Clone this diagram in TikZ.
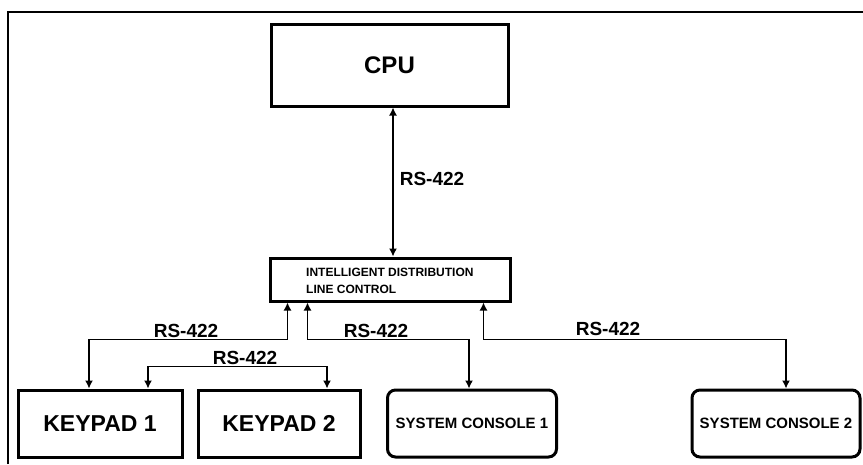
\documentclass[tikz,border=0pt]{standalone}
\usepackage{fontspec}
\setmainfont{Liberation Sans}
\usetikzlibrary{arrows.meta}

\begin{document}
\begin{tikzpicture}[x=1pt, y=-1pt,
	unit/.style={draw, line width=3pt, minimum height=67pt, font=\bfseries\fontsize{23}{27}\selectfont},
	console/.style={draw, line width=3pt, rounded corners=8pt, minimum width=169pt, minimum height=67pt, font=\bfseries\fontsize{15}{18}\selectfont},
	bus/.style={line width=1.4pt, {Latex[length=8pt,width=8pt]}-{Latex[length=8pt,width=8pt]}},
	rs/.style={font=\bfseries\fontsize{19}{22}\selectfont}]
					\useasboundingbox (0,0) rectangle (863,464);
					\draw[line width=2pt] (8,464) -- (8,12) -- (863,12);
					\node[draw, line width=3pt, minimum width=237pt, minimum height=82pt, font=\bfseries\fontsize{24}{28}\selectfont] (CPU)at(389.5, 65) {CPU};
					\node[draw, line width=3pt, minimum width=240pt, minimum height=43pt] (IDLC)at(390, 279.5) {};
					\node[anchor=west, align=left, inner sep=0pt, font=\bfseries\fontsize{12}{17}\selectfont] (IDLCtext)at(306, 280.5) {INTELLIGENT DISTRIBUTION\\LINE CONTROL};
					\node[unit, minimum width=164pt] (KP1)at(100, 423.5) {KEYPAD 1};
					\node[unit, minimum width=162pt] (KP2)at(279, 423.5) {KEYPAD 2};
					\node[console] (CON1)at(472, 423.5) {SYSTEM CONSOLE 1};
					\node[console, minimum width=168pt] (CON2)at(776, 423.5) {SYSTEM CONSOLE 2};
					\draw[bus] ([xshift=3.5pt]CPU.south) -- ([xshift=3.5pt]CPU.south |- IDLC.north);
					\draw[bus] ([xshift=19pt]IDLC.south west) -- ++(0,37) -| ([xshift=-11pt]KP1.north);
					\draw[bus] ([xshift=39pt]IDLC.south west) -- ++(0,37) -| ([xshift=-3pt]CON1.north);
					\draw[bus] ([xshift=-28pt]IDLC.south east) -- ++(0,37) -| ([xshift=10pt]CON2.north);
					\draw[bus] ([xshift=48pt]KP1.north) -- ++(0,-22) -| ([xshift=48pt]KP2.north);
					\node[rs] (RScpu)at(432, 179) {RS-422};
					\node[rs] (RSkp1)at(186, 331) {RS-422};
					\node[rs] (RScon1)at(376, 331) {RS-422};
					\node[rs] (RScon2)at(608, 329) {RS-422};
					\node[rs] (RSkp)at(245, 358) {RS-422};
				\end{tikzpicture}
\end{document}
